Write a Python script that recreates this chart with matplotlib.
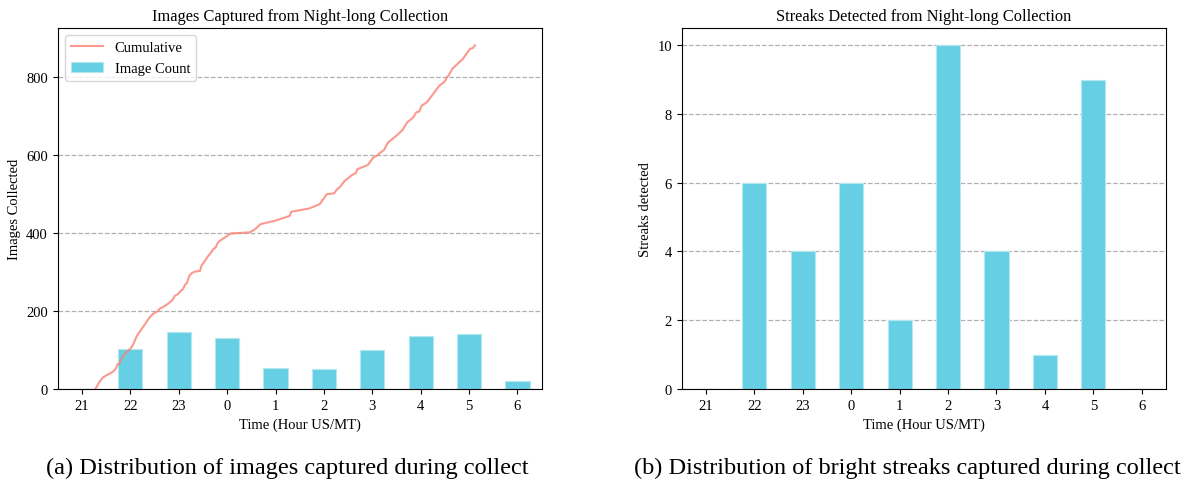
import matplotlib
matplotlib.use("Agg")
import matplotlib.pyplot as plt
import numpy as np

plt.rcParams['font.family'] = ['Liberation Serif', 'DejaVu Serif']
plt.rcParams['mathtext.fontset'] = 'stix'

# hour labels for the night-long collect
hours = ['21', '22', '23', '0', '1', '2', '3', '4', '5', '6']

# images per hour bin
image_counts = [0, 103, 145, 132, 53, 50, 100, 135, 141, 20]

# streaks per hour bin
streak_counts = [0, 6, 4, 6, 2, 10, 4, 1, 9, 0]

# cumulative image count, time given as hours after 21:00
cum_hours = [0.28, 0.36, 0.44, 0.55, 0.63, 0.70, 0.74, 0.77, 0.85, 0.88, 0.93, 1.00,
             1.05, 1.14, 1.28, 1.40, 1.48, 1.55, 1.62, 1.66, 1.75, 1.81, 1.87, 1.92,
             1.98, 2.03, 2.08, 2.14, 2.17, 2.22, 2.28, 2.33, 2.44, 2.47, 2.59, 2.66,
             2.73, 2.76, 2.81, 2.88, 2.96, 3.07, 3.47, 3.58, 3.69, 4.00, 4.29, 4.33,
             4.69, 4.91, 5.06, 5.21, 5.27, 5.32, 5.43, 5.58, 5.66, 5.69, 5.91, 6.02,
             6.10, 6.17, 6.24, 6.32, 6.50, 6.62, 6.72, 6.84, 6.91, 6.97, 7.02, 7.13,
             7.39, 7.49, 7.54, 7.58, 7.65, 7.87, 8.02, 8.08, 8.12]
cum_images = [0, 18, 30, 38, 43, 52, 64, 64, 85, 88, 96, 103,
              112, 137, 162, 184, 194, 198, 207, 209, 216, 222, 228, 239,
              243, 250, 255, 269, 272, 291, 298, 301, 303, 316, 338, 349,
              361, 362, 376, 383, 389, 399, 402, 410, 423, 432, 444, 455,
              463, 474, 500, 502, 512, 517, 534, 549, 554, 564, 575, 594,
              599, 607, 613, 632, 650, 664, 684, 696, 710, 712, 727, 736,
              779, 788, 800, 805, 821, 847, 873, 875, 882]

bar_color = '#66cfe3'
bar_edge = '#b3e8f1'
line_color = '#fa8072'

x = np.arange(len(hours))

fig = plt.figure(figsize=(11.9, 4.85), dpi=100)
ax1 = fig.add_axes([0.0485, 0.196, 0.4067, 0.744])
ax2 = fig.add_axes([0.5729, 0.196, 0.4069, 0.744])

# left panel: images per hour plus cumulative
ax1.bar(x, image_counts, width=0.5, color=bar_color, edgecolor=bar_edge,
        linewidth=0.8, label='Image Count')
ax1.plot(cum_hours, cum_images, color=line_color, alpha=0.8,
         linewidth=1.5, label='Cumulative')
ax1.set_xlim(-0.5, 9.5)
ax1.set_ylim(0, max(cum_images) * 1.05)
ax1.set_yticks([0, 200, 400, 600, 800])
ax1.set_xticks(x)
ax1.set_xticklabels(hours)
ax1.set_title('Images Captured from Night-long Collection', fontsize=11.8)
ax1.set_xlabel('Time (Hour US/MT)', fontsize=10.5)
ax1.set_ylabel('Images Collected', fontsize=10.5)
ax1.yaxis.grid(True, linestyle='--', color='#b0b0b0', linewidth=0.9)
ax1.set_axisbelow(True)
ax1.legend(loc='upper left', fontsize=10.5, handlelength=2.2)

# right panel: streaks per hour
ax2.bar(x, streak_counts, width=0.5, color=bar_color, edgecolor=bar_edge,
        linewidth=0.8)
ax2.set_xlim(-0.5, 9.5)
ax2.set_ylim(0, max(streak_counts) * 1.05)
ax2.set_yticks([0, 2, 4, 6, 8, 10])
ax2.set_xticks(x)
ax2.set_xticklabels(hours)
ax2.set_title('Streaks Detected from Night-long Collection', fontsize=11.8)
ax2.set_xlabel('Time (Hour US/MT)', fontsize=10.5)
ax2.set_ylabel('Streaks detected', fontsize=10.5)
ax2.yaxis.grid(True, linestyle='--', color='#b0b0b0', linewidth=0.9)
ax2.set_axisbelow(True)

for ax in (ax1, ax2):
    ax.tick_params(labelsize=10.5)

fig.text(0.2415, 0.022, '(a) Distribution of images captured during collect',
         ha='center', va='baseline', fontsize=17.5)
fig.text(0.7626, 0.022, '(b) Distribution of bright streaks captured during collect',
         ha='center', va='baseline', fontsize=17.5)

fig.savefig('out.png', dpi=100)
